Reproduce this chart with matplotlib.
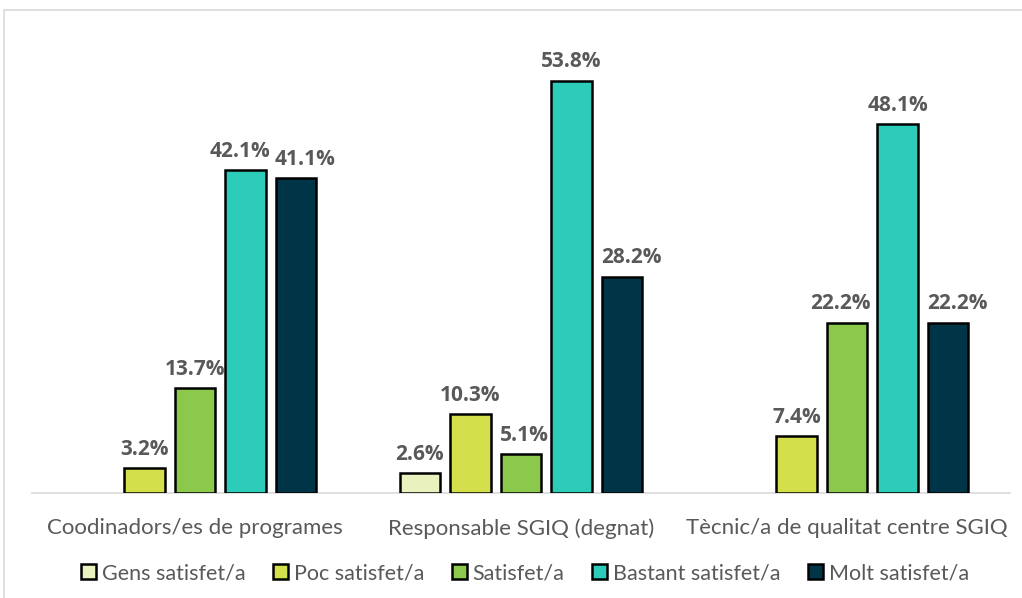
import matplotlib
matplotlib.use("Agg")
import matplotlib.pyplot as plt
import numpy as np
from matplotlib.patches import Rectangle

categories = ["Coodinadors/es de programes", "Responsable SGIQ (degnat)", "Tècnic/a de qualitat centre SGIQ"]
series_names = ["Gens satisfet/a", "Poc satisfet/a", "Satisfet/a", "Bastant satisfet/a", "Molt satisfet/a"]
gens = [np.nan, 2.6, np.nan]
poc = [3.2, 10.3, 7.4]
satisfet = [13.7, 5.1, 22.2]
bastant = [42.1, 53.8, 48.1]
molt = [41.1, 28.2, 22.2]
colors = ["#E9F2BE", "#D3E04B", "#8CC84B", "#2DCCB9", "#003548"]

series = [gens, poc, satisfet, bastant, molt]

# horizontal nudges (pixels) of some data labels, as in the reference layout
label_dx = {(3, 0): -6, (4, 0): 9, (4, 1): 9, (2, 1): 3, (2, 2): -7, (4, 2): 9}

plt.rcParams['font.family'] = ['Lato', 'DejaVu Sans']
fig = plt.figure(figsize=(10.22, 5.98), dpi=100)
ax = fig.add_axes([32/1022, 105/598, 978/1022, 460/598])

x = np.arange(len(categories))
step = 0.155
width = 0.125
for i, (vals, c) in enumerate(zip(series, colors)):
    pos = x + (i - 2) * step
    v = np.array(vals, dtype=float)
    ax.bar(pos, v, width=width, color=c, edgecolor="black", linewidth=1.8, label=series_names[i], zorder=3)
    for j, (p, val) in enumerate(zip(pos, v)):
        if not np.isnan(val):
            dx = label_dx.get((i, j), 0) * 0.72
            ax.annotate(f"{val:.1f}%", (p, val), xytext=(dx, 6), textcoords="offset points",
                        ha="center", va="bottom", fontsize=15, fontweight="bold",
                        color="#595959", family=["Open Sans", "DejaVu Sans"])

ax.set_xlim(-0.5, 2.5)
ax.set_ylim(0, 60)
ax.set_yticks([])
ax.set_xticks(x)
ax.set_xticklabels(categories, fontsize=16, color="#595959")
ax.tick_params(axis="x", length=0, pad=18)
for s in ["top", "right", "left"]:
    ax.spines[s].set_visible(False)
ax.spines["bottom"].set_color("#D9D9D9")
ax.spines["bottom"].set_linewidth(1.2)

leg = fig.legend(loc="center", bbox_to_anchor=(525/1022, 1 - 573/598), ncol=5, frameon=False,
                 fontsize=15.5, labelcolor="#595959", handlelength=0.7, handleheight=0.7,
                 handletextpad=0.25, columnspacing=1.3)
for h in leg.legend_handles:
    h.set_linewidth(1.8)

fig.patches.append(Rectangle((4/1022, -0.1), 1.2, 1 - 10/598 + 0.1, transform=fig.transFigure,
                             fill=False, edgecolor="#D9D9D9", linewidth=1.2))

fig.savefig("out.png", dpi=100)
